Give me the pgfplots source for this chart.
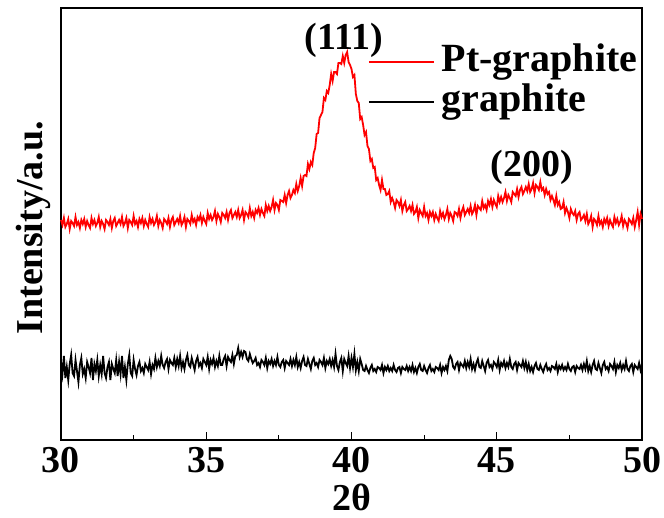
\documentclass[border=0pt]{standalone}
\usepackage{pgfplots}
\pgfplotsset{compat=1.18}
\usepackage{pgfplotstable}
\usepackage{fontspec}
\setmainfont{Liberation Serif}
\pgfplotstableread{
x red black
30.00 220 78
30.05 215 66
30.10 222 84
30.15 213 62
30.20 216 73
30.25 221 60
30.30 211 76
30.35 219 85
30.40 217 67
30.45 214 64
30.50 223 80
30.55 215 69
30.60 218 58
30.65 212 75
30.70 220 82
30.75 216 66
30.80 221 71
30.85 213 62
30.90 219 78
30.95 215 73
31.00 212 67
31.05 222 82
31.10 216 60
31.15 220 76
31.20 214 69
31.25 217 80
31.30 223 64
31.35 213 75
31.40 219 66
31.45 216 84
31.50 211 67
31.55 220 62
31.60 218 73
31.65 215 78
31.70 221 60
31.75 212 76
31.80 219 71
31.85 222 67
31.90 214 80
31.95 217 64
32.00 220 78
32.05 216 66
32.10 223 84
32.15 214 62
32.20 217 73
32.25 222 60
32.30 212 76
32.35 220 85
32.40 218 67
32.45 215 64
32.50 224 80
32.55 216 71
32.60 219 65
32.65 213 74
32.70 221 78
32.75 217 69
32.80 222 72
32.85 214 67
32.90 220 76
32.95 216 73
33.00 213 70
33.05 223 78
33.10 217 66
33.15 221 75
33.20 215 71
33.25 218 82
33.30 224 73
33.35 214 79
33.40 220 74
33.45 217 84
33.50 212 75
33.55 221 72
33.60 219 78
33.65 216 81
33.70 222 71
33.75 213 80
33.80 220 77
33.85 223 75
33.90 215 82
33.95 218 73
34.00 221 81
34.05 217 74
34.10 224 84
34.15 215 72
34.20 218 78
34.25 223 71
34.30 213 80
34.35 221 85
34.40 219 75
34.45 216 73
34.50 225 82
34.55 218 76
34.60 221 70
34.65 215 79
34.70 223 83
34.75 220 74
34.80 225 77
34.85 217 72
34.90 223 81
34.95 219 78
35.00 216 75
35.05 227 83
35.10 221 71
35.15 225 80
35.20 220 76
35.25 223 82
35.30 229 73
35.35 219 79
35.40 226 74
35.45 223 84
35.50 218 75
35.55 227 75
35.60 225 81
35.65 222 84
35.70 228 74
35.75 220 83
35.80 227 80
35.85 230 78
35.90 222 85
35.95 225 76
36.00 228 84
36.05 223 85
36.10 230 92
36.15 222 83
36.20 225 88
36.25 230 83
36.30 220 89
36.35 228 88
36.40 226 81
36.45 223 79
36.50 232 86
36.55 224 81
36.60 228 77
36.65 222 79
36.70 230 82
36.75 227 75
36.80 232 77
36.85 225 73
36.90 231 80
36.95 227 78
37.00 224 75
37.05 235 82
37.10 229 72
37.15 234 79
37.20 229 76
37.25 233 81
37.30 240 74
37.35 230 79
37.40 237 75
37.45 235 83
37.50 230 75
37.55 240 73
37.60 239 78
37.65 238 80
37.70 245 72
37.75 237 79
37.80 245 77
37.85 249 75
37.90 242 81
37.95 245 74
38.00 250 80
38.05 247 75
38.10 256 83
38.15 249 73
38.20 254 78
38.25 262 72
38.30 254 79
38.35 264 83
38.40 265 75
38.45 264 74
38.50 276 81
38.55 271 76
38.60 278 71
38.65 275 79
38.70 287 82
38.75 292 75
38.80 306 77
38.85 307 73
38.90 322 80
38.95 325 78
39.00 328 75
39.05 342 82
39.10 340 72
39.15 349 79
39.20 347 76
39.25 355 81
39.30 366 74
39.35 359 80
39.40 368 73
39.45 368 86
39.50 366 74
39.55 377 70
39.60 377 78
39.65 376 82
39.70 384 69
39.75 377 81
39.80 385 77
39.85 388 74
39.90 378 84
39.95 375 72
40.00 371 82
40.05 363 73
40.10 365 86
40.15 346 70
40.20 339 78
40.25 337 69
40.30 321 81
40.35 323 76
40.40 315 70
40.45 305 69
40.50 308 74
40.55 294 70
40.60 291 67
40.65 279 72
40.70 281 75
40.75 272 69
40.80 273 71
40.85 260 68
40.90 262 73
40.95 255 72
41.00 250 70
41.05 260 75
41.10 251 67
41.15 251 73
41.20 245 70
41.25 246 74
41.30 249 69
41.35 238 72
41.40 242 69
41.45 238 75
41.50 232 70
41.55 240 68
41.60 238 72
41.65 234 73
41.70 240 67
41.75 229 73
41.80 235 71
41.85 238 70
41.90 229 74
41.95 231 69
42.00 234 73
42.05 229 69
42.10 235 75
42.15 226 68
42.20 228 72
42.25 233 67
42.30 222 73
42.35 230 76
42.40 227 70
42.45 224 69
42.50 233 74
42.55 224 70
42.60 227 67
42.65 220 72
42.70 228 75
42.75 224 69
42.80 228 71
42.85 220 68
42.90 226 73
42.95 222 72
43.00 219 70
43.05 229 75
43.10 223 67
43.15 227 73
43.20 221 70
43.25 225 74
43.30 231 69
43.35 221 80
43.40 227 84
43.45 224 81
43.50 219 73
43.55 228 71
43.60 227 76
43.65 224 78
43.70 231 70
43.75 222 77
43.80 229 75
43.85 233 73
43.90 225 79
43.95 228 72
44.00 231 78
44.05 227 73
44.10 234 81
44.15 226 71
44.20 229 76
44.25 235 70
44.30 225 77
44.35 234 81
44.40 232 73
44.45 230 72
44.50 239 79
44.55 232 74
44.60 235 69
44.65 230 77
44.70 239 80
44.75 235 73
44.80 241 75
44.85 233 71
44.90 240 78
44.95 236 76
45.00 233 73
45.05 244 80
45.10 238 70
45.15 243 77
45.20 238 74
45.25 242 79
45.30 248 72
45.35 239 77
45.40 245 73
45.45 242 81
45.50 238 73
45.55 248 71
45.60 246 76
45.65 244 78
45.70 251 70
45.75 243 77
45.80 250 75
45.85 253 73
45.90 246 79
45.95 249 72
46.00 253 78
46.05 249 70
46.10 256 76
46.15 248 69
46.20 251 73
46.25 257 68
46.30 247 74
46.35 255 77
46.40 253 71
46.45 250 70
46.50 258 75
46.55 250 71
46.60 252 68
46.65 245 73
46.70 251 76
46.75 246 70
46.80 248 72
46.85 240 69
46.90 244 74
46.95 240 73
47.00 235 71
47.05 244 76
47.10 235 68
47.15 238 74
47.20 231 71
47.25 232 75
47.30 238 70
47.35 227 73
47.40 232 70
47.45 228 76
47.50 222 71
47.55 231 69
47.60 227 73
47.65 225 74
47.70 229 68
47.75 220 74
47.80 226 72
47.85 228 71
47.90 220 75
47.95 222 70
48.00 225 76
48.05 219 71
48.10 226 79
48.15 216 69
48.20 219 74
48.25 224 68
48.30 213 75
48.35 221 79
48.40 219 71
48.45 215 70
48.50 224 77
48.55 216 72
48.60 219 67
48.65 213 75
48.70 221 78
48.75 217 71
48.80 222 73
48.85 214 69
48.90 220 76
48.95 216 74
49.00 213 71
49.05 223 78
49.10 217 68
49.15 221 75
49.20 215 72
49.25 218 77
49.30 224 70
49.35 214 75
49.40 220 71
49.45 217 79
49.50 212 71
49.55 221 69
49.60 219 74
49.65 216 76
49.70 222 68
49.75 213 75
49.80 220 73
49.85 228 71
49.90 215 77
49.95 226 70
50.00 221 76
}\xrd
\begin{document}
\begin{tikzpicture}
\useasboundingbox (-61pt,-78pt) rectangle (603pt,440pt);
\begin{axis}[
  scale only axis, width=581pt, height=432pt,
  xmin=30, xmax=50, ymin=0, ymax=432,
  xtick={30,35,40,45,50}, minor x tick num=1,
  ytick=\empty,
  xtick pos=bottom, tick align=inside,
  major tick length=8pt, minor tick length=5pt,
  every tick/.style={black, line width=1.2pt},
  axis line style={line width=1.5pt},
  font=\fontsize{38}{40}\selectfont\bfseries,
  /pgf/number format/assume math mode=true,
  xticklabel style={font=\fontsize{38}{40}\selectfont\bfseries, yshift=-4pt},
  xlabel={2θ},
  xlabel style={at={(axis description cs:0.5,-0.132)}, anchor=center},
  ylabel={Intensity/a.u.},
  ylabel style={at={(axis description cs:-0.048,0.491)}, anchor=center},
  legend style={draw=none, fill=none, at={(0.528,0.922)}, anchor=north west,
    inner sep=0pt, outer sep=0pt, row sep=0pt,
    nodes={inner sep=0pt, text depth=10pt, text height=30pt},
    font=\fontsize{40}{42}\selectfont\bfseries},
  legend cell align=left,
  legend image code/.code={\draw[#1, line width=2pt] (0pt,0pt) -- (65pt,0pt);},
  clip=false,
]
\addplot[red, line width=1.8pt] table[x=x, y=red] {\xrd};
\addlegendentry{\hspace{7pt}Pt-graphite}
\addplot[black, line width=1.8pt] table[x=x, y=black] {\xrd};
\addlegendentry{\hspace{7pt}graphite}
\node[font=\fontsize{38}{40}\selectfont\bfseries] at (axis cs:39.73,400) {(111)};
\node[font=\fontsize{38}{40}\selectfont\bfseries] at (axis cs:46.2,273) {(200)};
\end{axis}
\end{tikzpicture}
\end{document}
